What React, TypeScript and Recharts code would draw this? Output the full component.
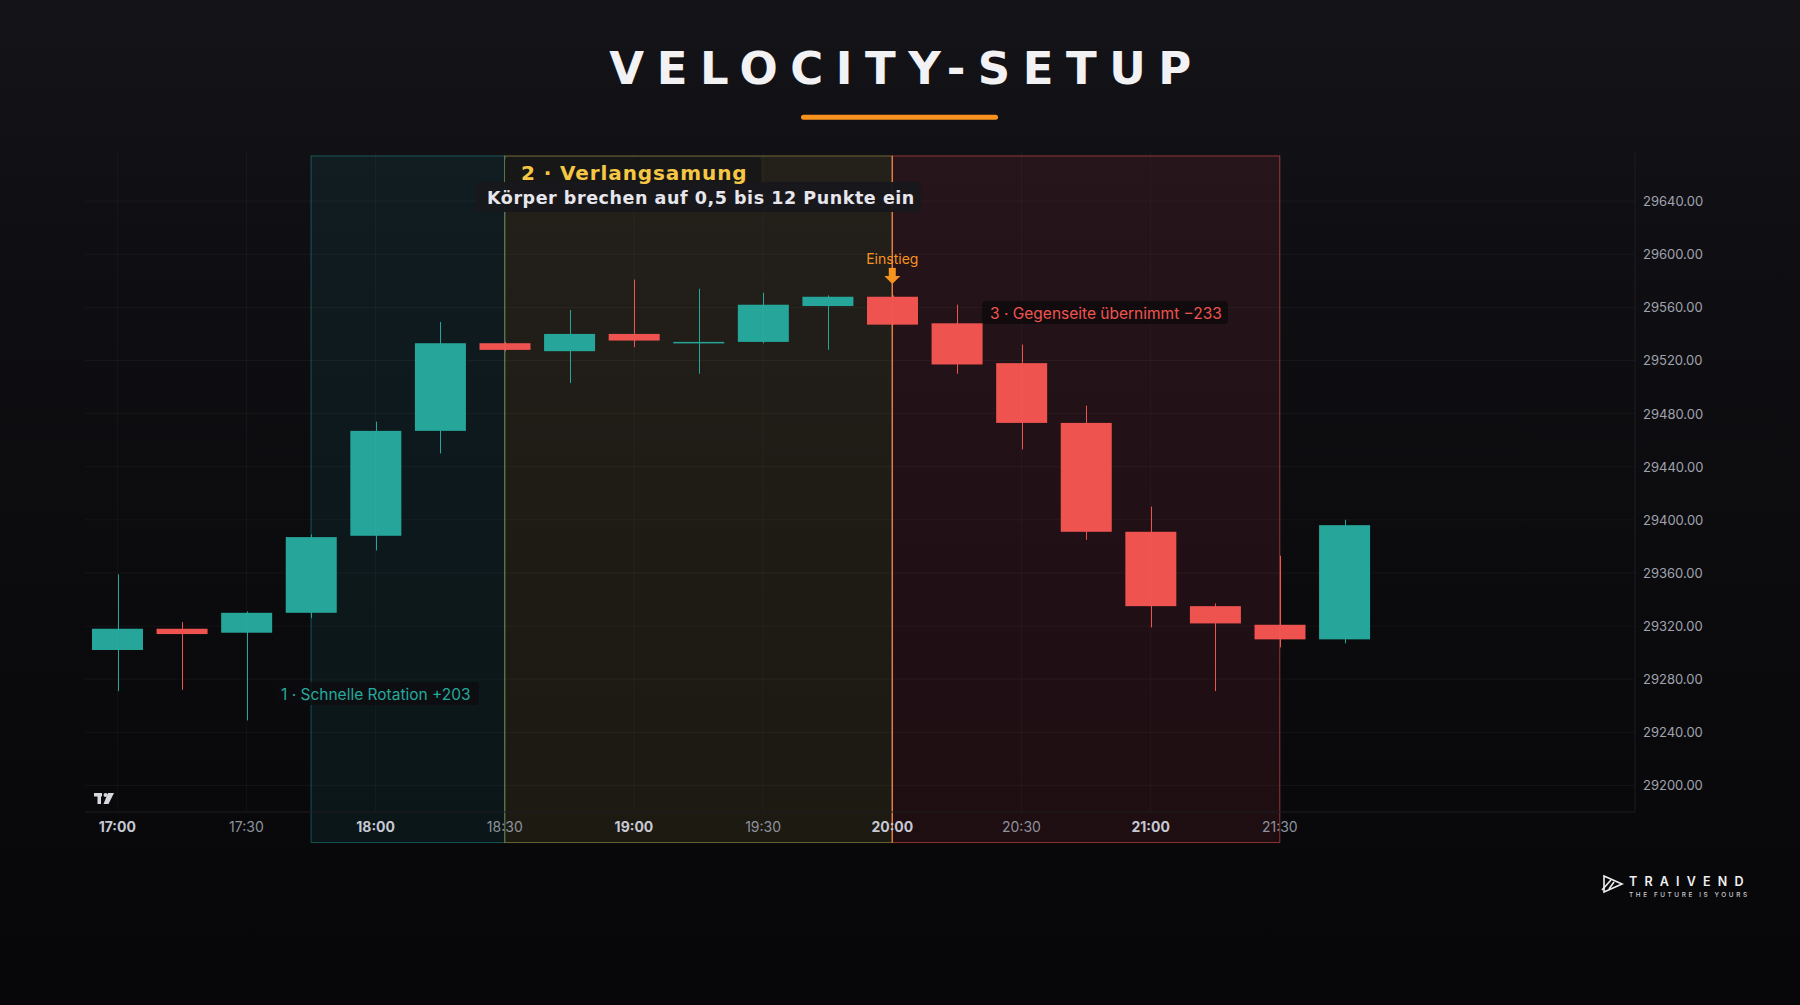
import React from 'react';
import {
  ComposedChart,
  Bar,
  XAxis,
  YAxis,
  CartesianGrid,
  ReferenceArea,
  ReferenceDot,
  ReferenceLine,
} from 'recharts';

// ---------- DATA ----------
const times = [
  '17:00', '17:15', '17:30', '17:45', '18:00', '18:15', '18:30', '18:45', '19:00', '19:15',
  '19:30', '19:45', '20:00', '20:15', '20:30', '20:45', '21:00', '21:15', '21:30', '21:45',
];
const emptyTimes = ['22:00', '22:15', '22:30', '22:45'];
const opens = [29302, 29318, 29315, 29330, 29388, 29467, 29533, 29527, 29540, 29533.5, 29534, 29561, 29568, 29548, 29518, 29473, 29391, 29335, 29321, 29310];
const highs = [29359, 29323, 29331, 29389, 29474, 29549, 29534, 29558, 29581, 29574, 29571, 29569, 29569, 29562, 29532, 29486, 29410, 29337, 29373, 29400];
const lows = [29271, 29272, 29249, 29326, 29377, 29450, 29527, 29503, 29530, 29510, 29533, 29528, 29547, 29510, 29453, 29385, 29319, 29271, 29304, 29307];
const closes = [29318, 29314, 29330, 29387, 29467, 29533, 29528, 29540, 29535, 29534, 29562, 29568, 29547, 29517, 29473, 29391, 29335, 29322, 29310, 29396];
const priceTicks = [29200, 29240, 29280, 29320, 29360, 29400, 29440, 29480, 29520, 29560, 29600, 29640];
const timeTicks = ['17:00', '17:30', '18:00', '18:30', '19:00', '19:30', '20:00', '20:30', '21:00', '21:30'];
const boldTimes = ['17:00', '18:00', '19:00', '20:00', '21:00'];
const priceDomain = [29180, 29677];
const zoneRange = [29157, 29674];
const entryTime = '20:00';
const entryPrice = 29569;

const TEAL = '#26a69a';
const RED = '#ef5350';

const data = [...times, ...emptyTimes].map((t, i) =>
  i < times.length
    ? { time: t, open: opens[i], high: highs[i], low: lows[i], close: closes[i], range: [lows[i], highs[i]] }
    : { time: t, range: null }
);

// ---------- SHAPES ----------
const Candle = (props: any) => {
  const { x, y, width, height, payload } = props;
  if (!payload || payload.open == null || height == null) return null;
  const { open, high, low, close } = payload;
  const top = Math.min(y, y + height);
  const h = Math.abs(height);
  const ppu = h / (high - low);
  const py = (v: number) => top + (high - v) * ppu;
  const up = close >= open;
  const color = up ? TEAL : RED;
  const bt = py(Math.max(open, close));
  const bb = py(Math.min(open, close));
  const cx = Math.round(x + width / 2) + 0.5;
  return (
    <g>
      <line x1={cx} x2={cx} y1={top} y2={top + h} stroke={color} strokeWidth={1} />
      <rect x={x} y={bt} width={width} height={Math.max(bb - bt, 1.5)} fill={color} />
    </g>
  );
};

const zoneShape = (span: number, fill: string, stroke: string, entryLine?: string) => (p: any) => {
  const band = p.width / span;
  const x1 = p.x + band / 2;
  const x2 = p.x + p.width - band / 2;
  return (
    <g>
      <rect x={x1} y={p.y} width={x2 - x1} height={p.height} fill={fill} stroke={stroke} strokeWidth={1} />
      {entryLine ? (
        <line x1={x1} x2={x1} y1={p.y} y2={p.y + p.height} stroke={entryLine} strokeWidth={1.3} />
      ) : null}
    </g>
  );
};

const EntryMarker = (p: any) => {
  const { cx, cy } = p;
  if (cx == null || cy == null) return null;
  const tip = cy - 11.5;
  return (
    <g>
      <text x={cx} y={tip - 25} textAnchor="middle" dominantBaseline="central" fontFamily="Inter" fontSize={14} fill="#f7931e">
        Einstieg
      </text>
      <rect x={cx - 3.5} y={tip - 16} width={7} height={9} fill="#f7931e" />
      <path d={`M${cx - 8} ${tip - 8} L${cx + 8} ${tip - 8} L${cx} ${tip} Z`} fill="#f7931e" />
    </g>
  );
};

const XTick = (p: any) => {
  const { x, y, payload } = p;
  const bold = boldTimes.includes(payload.value);
  return (
    <text
      x={x}
      y={y + 14.6}
      textAnchor="middle"
      dominantBaseline="central"
      fontFamily="Inter"
      fontSize={14}
      fontWeight={bold ? 700 : 400}
      fill={bold ? '#c6c9d3' : '#8e929d'}
    >
      {payload.value}
    </text>
  );
};

const YTick = (p: any) => {
  const { x, y, payload } = p;
  return (
    <text x={x} y={y} textAnchor="start" dominantBaseline="central" fontFamily="Inter" fontSize={13} fill="#a0a3ae">
      {Number(payload.value).toFixed(2)}
    </text>
  );
};

export default function App() {
  return (
    <div
      style={{
        position: 'absolute',
        left: 0,
        top: 0,
        width: 1800,
        height: 1005,
        overflow: 'hidden',
        background: 'linear-gradient(180deg, #131318 0%, #0f0f13 25%, #0b0b0e 60%, #070709 100%)',
      }}
    >
      <div style={{ position: 'absolute', left: 0, top: 0 }}>
        <ComposedChart
          width={1800}
          height={1005}
          data={data}
          margin={{ top: 152, right: 65, bottom: 163, left: 85 }}
        >
          <CartesianGrid vertical={false} syncWithTicks stroke="rgba(255,255,255,0.045)" />
          {timeTicks.map((t) => (
            <ReferenceLine key={t} x={t} stroke="rgba(255,255,255,0.035)" strokeWidth={1} />
          ))}
          <XAxis
            dataKey="time"
            type="category"
            ticks={timeTicks}
            interval={0}
            tickLine={false}
            tickSize={0}
            tickMargin={0}
            axisLine={{ stroke: '#1c1c22' }}
            height={30}
            tick={<XTick />}
          />
          <YAxis
            orientation="right"
            type="number"
            domain={priceDomain}
            allowDataOverflow
            ticks={priceTicks}
            width={100}
            tickLine={false}
            tickSize={0}
            tickMargin={8}
            axisLine={{ stroke: '#1c1c22' }}
            tick={<YTick />}
          />
          <Bar dataKey="range" barSize={51} shape={<Candle />} isAnimationActive={false} />
          <ReferenceArea
            x1="17:45"
            x2="18:30"
            y1={zoneRange[0]}
            y2={zoneRange[1]}
            ifOverflow="visible"
            shape={zoneShape(4, 'rgba(40,160,175,0.085)', 'rgba(38,166,154,0.45)')}
          />
          <ReferenceArea
            x1="18:30"
            x2="20:00"
            y1={zoneRange[0]}
            y2={zoneRange[1]}
            ifOverflow="visible"
            shape={zoneShape(7, 'rgba(205,175,90,0.1)', 'rgba(215,200,95,0.45)')}
          />
          <ReferenceArea
            x1="20:00"
            x2="21:30"
            y1={zoneRange[0]}
            y2={zoneRange[1]}
            ifOverflow="visible"
            shape={zoneShape(7, 'rgba(230,60,80,0.1)', 'rgba(239,83,80,0.55)', 'rgba(242,130,60,0.9)')}
          />
          <ReferenceDot x={entryTime} y={entryPrice} ifOverflow="visible" shape={<EntryMarker />} />
        </ComposedChart>
      </div>

      <svg
        width={1800}
        height={1005}
        style={{ position: 'absolute', left: 0, top: 0, pointerEvents: 'none' }}
      >
        {/* Title */}
        <text
          x={906.5}
          y={83.5}
          textAnchor="middle"
          fontFamily="DejaVu Sans"
          fontWeight={700}
          fontSize={45}
          letterSpacing={12.5}
          fill="#f2f2f5"
        >
          VELOCITY-SETUP
        </text>
        <rect x={801} y={114.8} width={197} height={5} rx={2.5} fill="#f7931e" />

        {/* Zone 2 label */}
        <rect x={505} y={157} width={256} height={33} rx={4} fill="rgba(24,23,24,0.96)" />
        <rect x={476} y={182} width={445} height={30} rx={4} fill="rgba(24,24,28,0.96)" />
        <text x={521} y={173} dominantBaseline="central" fontFamily="DejaVu Sans" fontWeight={700} fontSize={20} letterSpacing={0.9} fill="#f6c744">
          2 · Verlangsamung
        </text>
        <text x={487} y={197.5} dominantBaseline="central" fontFamily="DejaVu Sans" fontWeight={700} fontSize={17.5} letterSpacing={0.55} fill="#e6e6ec">
          Körper brechen auf 0,5 bis 12 Punkte ein
        </text>

        {/* Zone 1 label */}
        <rect x={277} y={682} width={202} height={23} rx={4} fill="rgba(12,12,16,0.75)" />
        <text x={281} y={694} dominantBaseline="central" fontFamily="Inter" fontSize={15.5} fill="#27a99c">
          1 · Schnelle Rotation +203
        </text>

        {/* Zone 3 label */}
        <rect x={982} y={301} width={246} height={23} rx={4} fill="rgba(12,10,13,0.8)" />
        <text x={990} y={313} dominantBaseline="central" fontFamily="Inter" fontSize={15.5} fill="#ef5350">
          3 · Gegenseite übernimmt −233
        </text>

        {/* TradingView-style mark */}
        <g fill="#d6d8de">
          <rect x={94} y={793} width={8} height={3.5} />
          <rect x={97.5} y={793} width={3.5} height={11} />
          <circle cx={105.5} cy={795} r={2} />
          <path d="M108 793 L114 793 L108.5 804 L103.5 804 Z" />
        </g>

        {/* TRAIVEND logo */}
        <g stroke="#f0f0f0" strokeWidth={1.6} fill="none">
          <path d="M1604 876 L1622 884 L1604 892 Z" />
          <path d="M1602 890 L1611 880" />
          <path d="M1609 889 L1614 882" />
        </g>
        <text x={1629} y={885.5} fontFamily="Inter" fontWeight={600} fontSize={12.5} letterSpacing={7.2} fill="#f0f0f0">
          TRAIVEND
        </text>
        <text x={1629} y={896.5} fontFamily="Inter" fontWeight={500} fontSize={6.4} letterSpacing={2.6} fill="#cfcfd4">
          THE FUTURE IS YOURS
        </text>
      </svg>
    </div>
  );
}
